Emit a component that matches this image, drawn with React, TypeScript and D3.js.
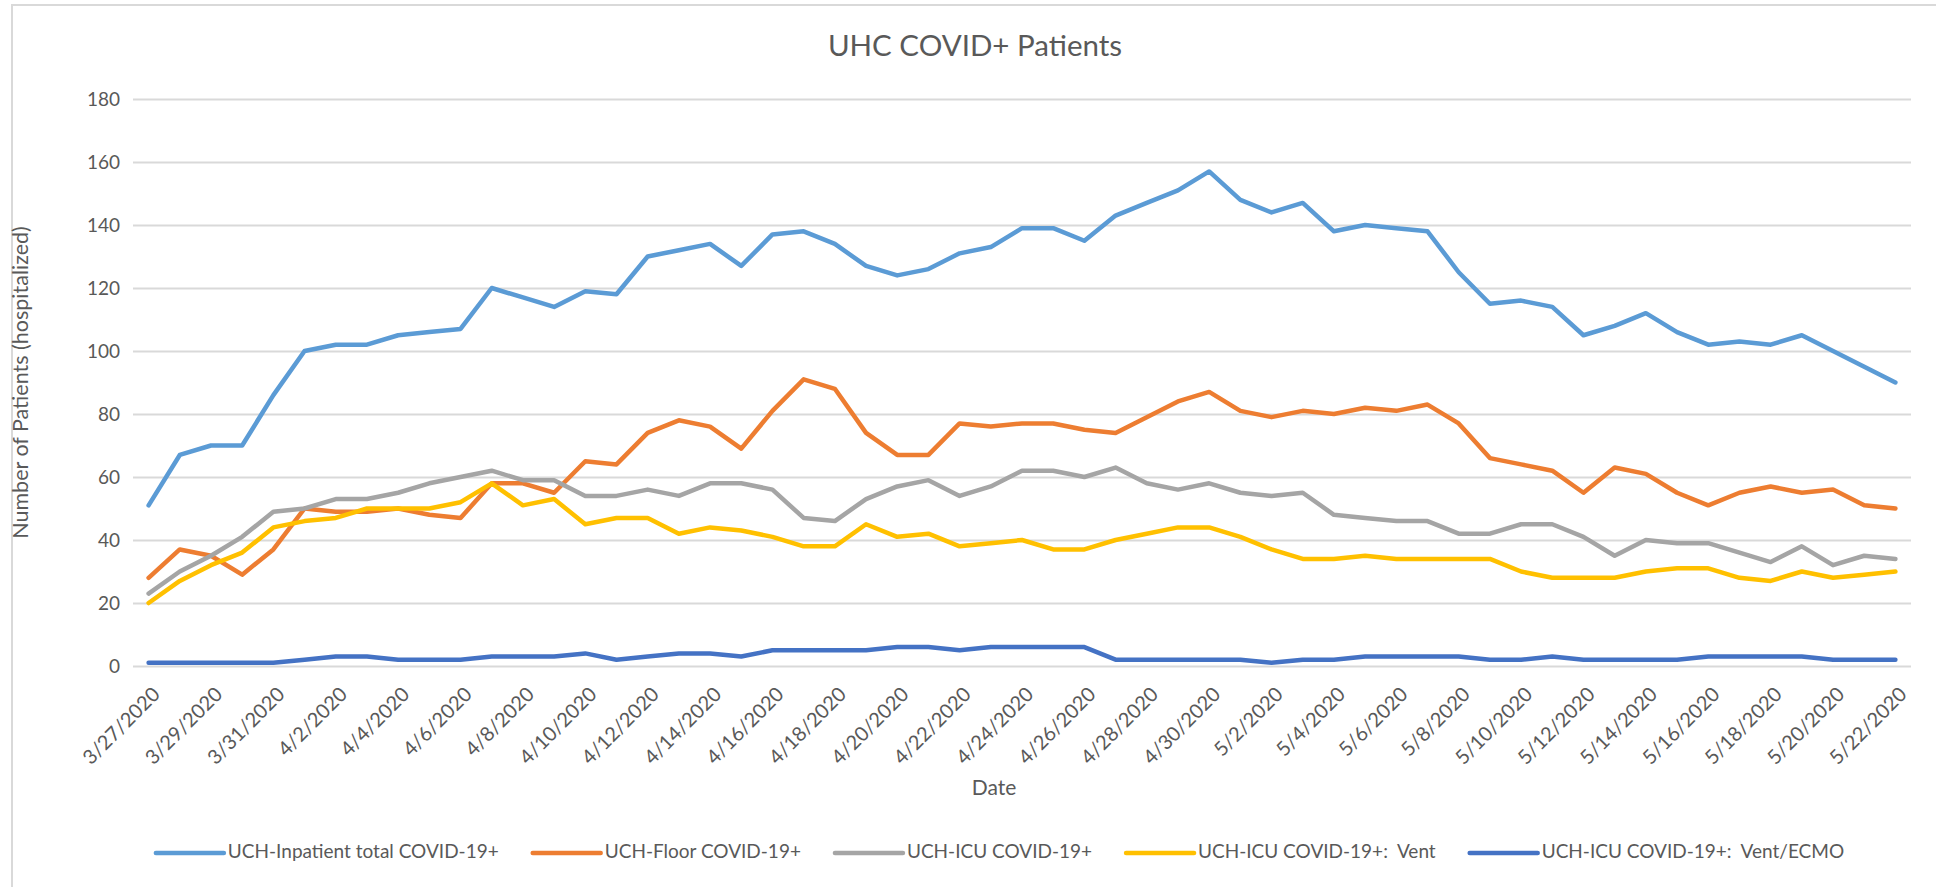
import React, { useEffect, useRef } from 'react'
import * as d3 from 'd3'

// Dates on the category axis (one per day)
const dates = [
  '3/27/2020', '3/28/2020', '3/29/2020', '3/30/2020', '3/31/2020',
  '4/1/2020', '4/2/2020', '4/3/2020', '4/4/2020', '4/5/2020', '4/6/2020', '4/7/2020', '4/8/2020',
  '4/9/2020', '4/10/2020', '4/11/2020', '4/12/2020', '4/13/2020', '4/14/2020', '4/15/2020', '4/16/2020',
  '4/17/2020', '4/18/2020', '4/19/2020', '4/20/2020', '4/21/2020', '4/22/2020', '4/23/2020', '4/24/2020',
  '4/25/2020', '4/26/2020', '4/27/2020', '4/28/2020', '4/29/2020', '4/30/2020',
  '5/1/2020', '5/2/2020', '5/3/2020', '5/4/2020', '5/5/2020', '5/6/2020', '5/7/2020', '5/8/2020',
  '5/9/2020', '5/10/2020', '5/11/2020', '5/12/2020', '5/13/2020', '5/14/2020', '5/15/2020', '5/16/2020',
  '5/17/2020', '5/18/2020', '5/19/2020', '5/20/2020', '5/21/2020', '5/22/2020',
]

const inpatientTotal = [51, 67, 70, 70, 86, 100, 102, 102, 105, 106, 107, 120, 117, 114, 119, 118, 130, 132, 134, 127, 137, 138, 134, 127, 124, 126, 131, 133, 139, 139, 135, 143, 147, 151, 157, 148, 144, 147, 138, 140, 139, 138, 125, 115, 116, 114, 105, 108, 112, 106, 102, 103, 102, 105, 100, 95, 90]
const floor = [28, 37, 35, 29, 37, 50, 49, 49, 50, 48, 47, 58, 58, 55, 65, 64, 74, 78, 76, 69, 81, 91, 88, 74, 67, 67, 77, 76, 77, 77, 75, 74, 79, 84, 87, 81, 79, 81, 80, 82, 81, 83, 77, 66, 64, 62, 55, 63, 61, 55, 51, 55, 57, 55, 56, 51, 50]
const icu = [23, 30, 35, 41, 49, 50, 53, 53, 55, 58, 60, 62, 59, 59, 54, 54, 56, 54, 58, 58, 56, 47, 46, 53, 57, 59, 54, 57, 62, 62, 60, 63, 58, 56, 58, 55, 54, 55, 48, 47, 46, 46, 42, 42, 45, 45, 41, 35, 40, 39, 39, 36, 33, 38, 32, 35, 34]
const icuVent = [20, 27, 32, 36, 44, 46, 47, 50, 50, 50, 52, 58, 51, 53, 45, 47, 47, 42, 44, 43, 41, 38, 38, 45, 41, 42, 38, 39, 40, 37, 37, 40, 42, 44, 44, 41, 37, 34, 34, 35, 34, 34, 34, 34, 30, 28, 28, 28, 30, 31, 31, 28, 27, 30, 28, 29, 30]
const icuEcmo = [1, 1, 1, 1, 1, 2, 3, 3, 2, 2, 2, 3, 3, 3, 4, 2, 3, 4, 4, 3, 5, 5, 5, 5, 6, 6, 5, 6, 6, 6, 6, 2, 2, 2, 2, 2, 1, 2, 2, 3, 3, 3, 3, 2, 2, 3, 2, 2, 2, 2, 3, 3, 3, 3, 2, 2, 2]

const seriesNames = [
  'UCH-Inpatient total COVID-19+',
  'UCH-Floor COVID-19+',
  'UCH-ICU COVID-19+',
  'UCH-ICU COVID-19+:  Vent',
  'UCH-ICU COVID-19+:  Vent/ECMO',
]
const seriesColors = ['#5B9BD5', '#ED7D31', '#A5A5A5', '#FFC000', '#4472C4']
const yTicks = [0, 20, 40, 60, 80, 100, 120, 140, 160, 180]

export default function App() {
  const svgRef = useRef<SVGSVGElement>(null)

  useEffect(() => {
    if (!svgRef.current) return
    document.body.style.margin = '0'

    const svg = d3.select(svgRef.current)
    svg.selectAll('*').remove()

    const font = "Lato, 'Open Sans', sans-serif"
    const textColor = '#595959'
    const plot = { left: 133, right: 1911, top: 99, bottom: 666 }

    const series = [inpatientTotal, floor, icu, icuVent, icuEcmo]

    // Scales
    const x = d3.scaleBand<string>().domain(dates).range([plot.left, plot.right])
    const y = d3.scaleLinear().domain([0, 180]).range([plot.bottom, plot.top])

    // Chart border (top / left edge)
    svg.append('rect')
      .attr('x', 12).attr('y', 5)
      .attr('width', 3000).attr('height', 3000)
      .attr('fill', 'none')
      .attr('stroke', '#D9D9D9')
      .attr('stroke-width', 2)

    // Title
    svg.append('text')
      .attr('x', 975).attr('y', 49)
      .attr('text-anchor', 'middle')
      .attr('dominant-baseline', 'middle')
      .style('font-family', font)
      .style('font-size', '29.5px')
      .attr('fill', textColor)
      .text('UHC COVID+ Patients')

    // Y axis with gridlines
    const yAxis = svg.append('g')
      .attr('transform', `translate(${plot.left},0)`)
      .call(d3.axisLeft(y).tickValues(yTicks).tickSize(-(plot.right - plot.left)).tickPadding(13))
    yAxis.select('.domain').remove()
    yAxis.selectAll('.tick line')
      .attr('stroke', '#D9D9D9')
      .attr('stroke-width', 1.8)
    yAxis.selectAll('.tick text')
      .style('font-family', font)
      .style('font-size', '19px')
      .attr('fill', textColor)

    // X axis labels (every other date)
    const xAxis = svg.append('g')
      .attr('transform', `translate(0,${plot.bottom})`)
      .call(d3.axisBottom(x).tickValues(dates.filter((_, i) => i % 2 === 0)).tickSize(0))
    xAxis.select('.domain').remove()
    xAxis.selectAll('.tick text')
      .attr('x', 0).attr('y', 0)
      .attr('dy', '0.75em')
      .attr('text-anchor', 'end')
      .attr('transform', 'translate(2,19) rotate(-45)')
      .style('font-family', font)
      .style('font-size', '20px')
      .attr('fill', textColor)

    // Axis titles
    svg.append('text')
      .attr('x', 994).attr('y', 790)
      .attr('text-anchor', 'middle')
      .attr('dominant-baseline', 'middle')
      .style('font-family', font)
      .style('font-size', '21px')
      .attr('fill', textColor)
      .text('Date')

    svg.append('text')
      .attr('transform', `translate(23,${(plot.top + plot.bottom) / 2}) rotate(-90)`)
      .attr('text-anchor', 'middle')
      .attr('dominant-baseline', 'middle')
      .style('font-family', font)
      .style('font-size', '21.5px')
      .attr('fill', textColor)
      .text('Number of Patients (hospitalized)')

    // Lines
    const line = d3.line<number>()
      .x((_, i) => (x(dates[i]) as number) + x.bandwidth() / 2)
      .y(d => y(d))

    series.forEach((values, k) => {
      svg.append('path')
        .datum(values)
        .attr('fill', 'none')
        .attr('stroke', seriesColors[k])
        .attr('stroke-width', 4.5)
        .attr('stroke-linejoin', 'round')
        .attr('stroke-linecap', 'round')
        .attr('d', line)
    })

    // Legend
    const legendY = 853
    const lineLen = 68
    const itemGap = 34
    const legend = svg.append('g')
    const items = seriesNames.map((name, k) => {
      const g = legend.append('g')
      g.append('line')
        .attr('x1', 0).attr('x2', lineLen)
        .attr('y1', 0).attr('y2', 0)
        .attr('stroke', seriesColors[k])
        .attr('stroke-width', 4.5)
        .attr('stroke-linecap', 'round')
      const t = g.append('text')
        .attr('x', lineLen + 4)
        .attr('y', 0)
        .attr('dominant-baseline', 'middle')
        .style('font-family', font)
        .style('font-size', '19px')
        .style('white-space', 'pre')
        .attr('fill', textColor)
        .text(name)
      const w = (t.node() as SVGTextElement).getComputedTextLength()
      return { g, w: lineLen + 4 + w }
    })
    const total = d3.sum(items, d => d.w) + itemGap * (items.length - 1)
    let cx = 1000 - total / 2
    items.forEach(it => {
      it.g.attr('transform', `translate(${cx},${legendY})`)
      cx += it.w + itemGap
    })
  }, [])

  return <svg ref={svgRef} width={1936} height={887} style={{ display: 'block', background: '#fff' }} />
}
